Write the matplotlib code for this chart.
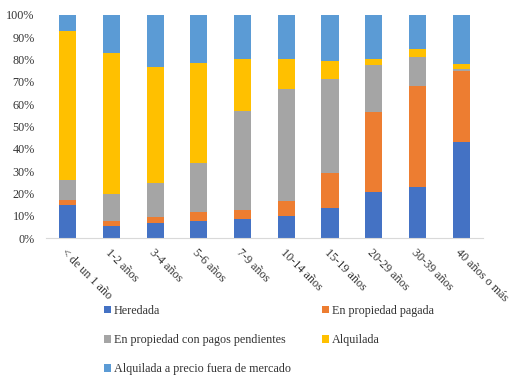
import numpy as np
import matplotlib.pyplot as plt
from matplotlib.patches import Patch
import matplotlib.ticker as mticker

categories = ["< de un 1 año", "1-2 años", "3-4 años", "5-6 años", "7-9 años",
              "10-14 años", "15-19 años", "20-29 años", "30-39 años", "40 años o más"]

heredada = [14.8, 5.4, 6.7, 7.6, 8.5, 9.9, 13.5, 20.7, 22.9, 43.1]
pagada = [2.3, 2.2, 2.6, 4.1, 4.1, 6.6, 15.7, 35.9, 45.4, 31.8]
pendientes = [8.9, 12.2, 15.3, 21.8, 44.3, 50.3, 42.1, 20.9, 12.8, 0.9]
alquilada = [66.8, 63.1, 52.0, 44.9, 23.3, 13.4, 8.0, 2.7, 3.6, 2.3]
fuera_mercado = [7.2, 17.1, 23.4, 21.6, 19.8, 19.8, 20.7, 19.8, 15.3, 21.9]

series = [
    ("Heredada", heredada, "#4472C4"),
    ("En propiedad pagada", pagada, "#ED7D31"),
    ("En propiedad con pagos pendientes", pendientes, "#A5A5A5"),
    ("Alquilada", alquilada, "#FFC000"),
    ("Alquilada a precio fuera de mercado", fuera_mercado, "#5B9BD5"),
]

plt.rcParams["font.family"] = ["Liberation Serif", "DejaVu Serif"]

fig = plt.figure(figsize=(5.2, 3.81), dpi=100)
ax = fig.add_axes([0.088, 0.375, 0.841, 0.586])

x = np.arange(len(categories))
total = np.sum([s[1] for s in series], axis=0)
bottom = np.zeros(len(categories))
handles = {}
for name, vals, color in series:
    pct = np.array(vals) / total * 100
    ax.bar(x, pct, bottom=bottom, width=0.39, color=color, linewidth=0)
    bottom += pct
    handles[name] = Patch(facecolor=color, edgecolor="none")

ax.set_xlim(-0.5, len(categories) - 0.5)
ax.set_ylim(0, 100)
ax.yaxis.set_major_locator(mticker.MultipleLocator(10))
ax.yaxis.set_major_formatter(mticker.PercentFormatter(decimals=0))
ax.tick_params(axis="y", length=0, labelsize=8.7, colors="#333333", pad=8)
ax.tick_params(axis="x", length=0, pad=6)
ax.set_xticks(x)
ax.set_xticklabels(categories, rotation=-45, ha="left", va="top",
                   rotation_mode="anchor", fontsize=8.7, color="#333333")
for side in ["top", "right", "left"]:
    ax.spines[side].set_visible(False)
ax.spines["bottom"].set_color("#D9D9D9")

# reorder so the two-column legend reads row by row
order = ["Heredada", "En propiedad con pagos pendientes",
         "Alquilada a precio fuera de mercado", "En propiedad pagada", "Alquilada"]
fig.legend([handles[n] for n in order], order, loc="upper left",
           bbox_to_anchor=(0.2, 0.2), ncol=2, frameon=False, fontsize=8.7,
           handlelength=0.6, handleheight=0.6, handletextpad=0.2,
           labelspacing=1.42, columnspacing=2.6, borderpad=0, borderaxespad=0,
           labelcolor="#333333")

fig.savefig("out.png", dpi=100)
